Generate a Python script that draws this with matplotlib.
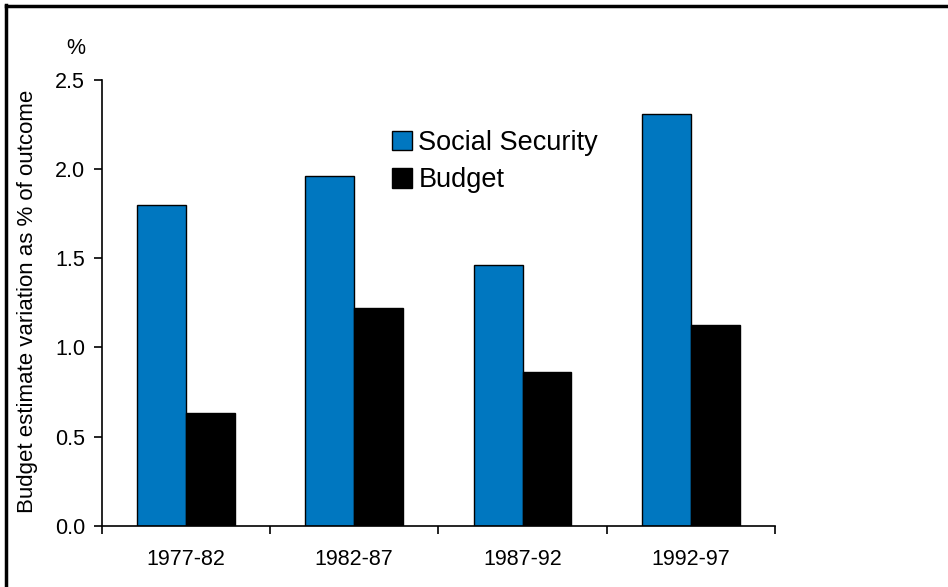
"""Variación de la estimación presupuestaria: Seguridad Social frente a presupuesto."""

import matplotlib

matplotlib.use("Agg", force=True)
import matplotlib.pyplot as plt
from matplotlib.lines import Line2D
from matplotlib.patches import Patch

plt.rcParams["font.family"] = ["Liberation Sans", "DejaVu Sans"]

PERIODS = ["1977-82", "1982-87", "1987-92", "1992-97"]
SOCIAL_SECURITY = [1.80, 1.96, 1.46, 2.31]
BUDGET = [0.63, 1.22, 0.86, 1.125]

BLUE = "#0077c0"
BAR_WIDTH = 0.29


def main() -> None:
    fig = plt.figure(figsize=(9.48, 5.87), dpi=100)
    ax = fig.add_axes([0.1073, 0.1044, 0.7102, 0.7593])

    x = list(range(len(PERIODS)))
    ax.bar(
        [i - BAR_WIDTH / 2 for i in x],
        SOCIAL_SECURITY,
        BAR_WIDTH,
        color=BLUE,
        edgecolor="black",
        linewidth=1.0,
    )
    ax.bar(
        [i + BAR_WIDTH / 2 for i in x],
        BUDGET,
        BAR_WIDTH,
        color="black",
        edgecolor="black",
        linewidth=1.0,
    )

    ax.set_xlim(-0.5, len(PERIODS) - 0.5)
    ax.set_ylim(0, 2.5)

    # etiquetas centradas, marcas en los límites de cada categoría
    ax.set_xticks(x)
    ax.set_xticklabels(PERIODS, fontsize=15.5)
    ax.tick_params(axis="x", which="major", length=0, pad=17)
    ax.set_xticks([i - 0.5 for i in range(len(PERIODS) + 1)], minor=True)
    ax.tick_params(axis="x", which="minor", length=6, width=1.2, direction="out")

    ax.set_yticks([0.0, 0.5, 1.0, 1.5, 2.0, 2.5])
    ax.set_yticklabels([f"{v:.1f}" for v in ax.get_yticks()], fontsize=15.5)
    ax.tick_params(axis="y", length=6, width=1.2, direction="out", pad=6)

    for side in ("top", "right"):
        ax.spines[side].set_visible(False)
    for side in ("left", "bottom"):
        ax.spines[side].set_linewidth(1.2)

    ax.set_ylabel("Budget estimate variation as % of outcome", fontsize=16)
    ax.yaxis.set_label_coords(-0.0945, 0.503)
    fig.text(76 / 948, 1 - 48 / 587, "%", fontsize=15.5, ha="center", va="center")

    handles = [
        Patch(facecolor=BLUE, edgecolor="black", linewidth=1.0),
        Patch(facecolor="black", edgecolor="black", linewidth=1.0),
    ]
    fig.legend(
        handles,
        ["Social Security", "Budget"],
        loc="upper left",
        bbox_to_anchor=(392 / 948, 1 - 130 / 587),
        frameon=False,
        fontsize=19.5,
        handlelength=0.72,
        handleheight=0.72,
        handletextpad=0.25,
        labelspacing=0.42,
        borderpad=0,
        borderaxespad=0,
    )

    # marco de la figura: solo lados superior e izquierdo
    fig.add_artist(Line2D([5.5 / 948, 5.5 / 948], [0, 1 - 5 / 587], color="black", linewidth=2.5, transform=fig.transFigure))
    fig.add_artist(Line2D([5.5 / 948, 1], [1 - 5.5 / 587, 1 - 5.5 / 587], color="black", linewidth=2.5, transform=fig.transFigure))

    fig.savefig("out.png", dpi=100)
    plt.close(fig)


if __name__ == "__main__":
    main()
